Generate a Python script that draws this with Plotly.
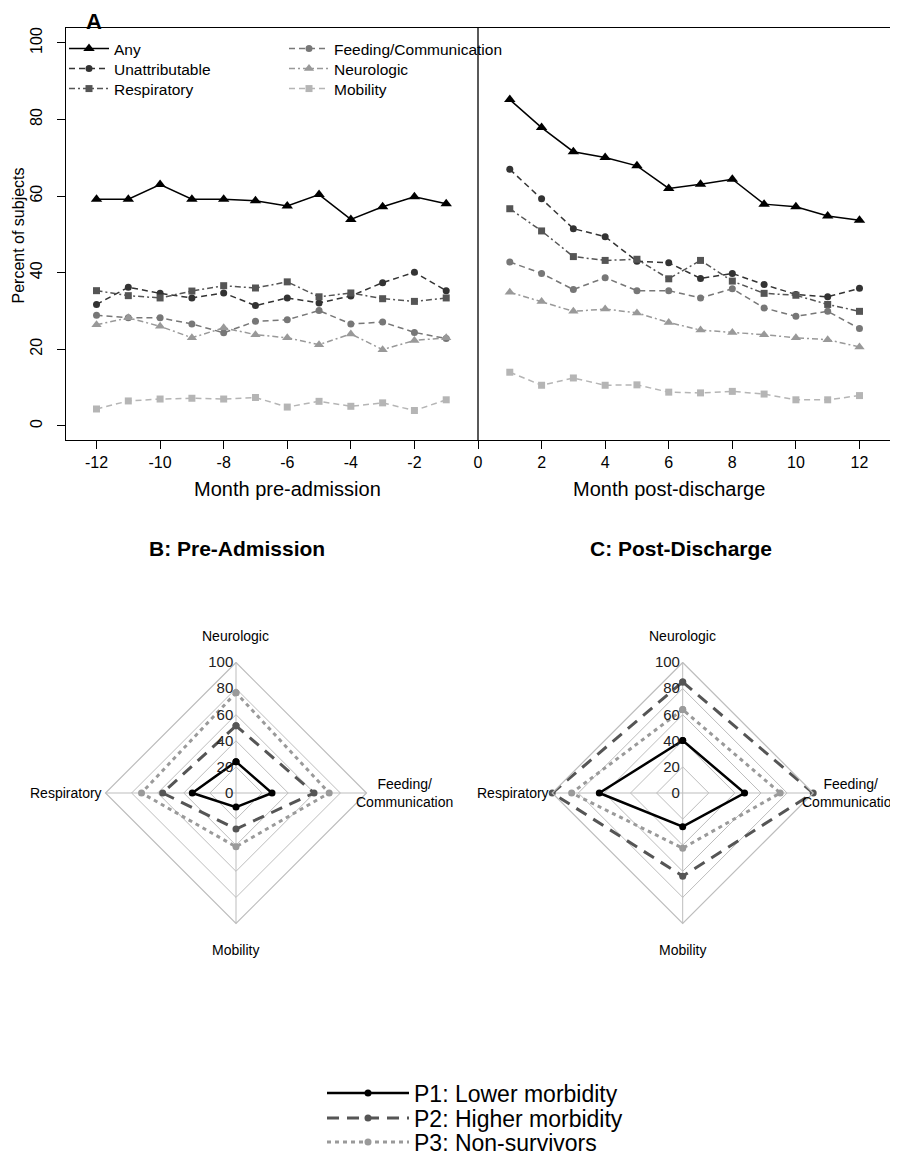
import plotly.graph_objects as go

# page offset (browser body margin) and figure size
OFF = 8
W, H = 898 - OFF, 1165 - OFF

# ---------------- Panel A data ----------------
months_pre = list(range(-12, 0))
months_post = list(range(1, 13))
x_ticks = list(range(-12, 13, 2))
x_tick_labels = [str(v) for v in x_ticks]
y_ticks = [0, 20, 40, 60, 80, 100]

any_pre = [59.2, 59.2, 63.0, 59.2, 59.2, 58.8, 57.4, 60.4, 53.9, 57.2, 59.8, 58.0]
any_post = [85.2, 77.9, 71.6, 70.1, 67.9, 62.0, 63.1, 64.4, 57.9, 57.2, 54.8, 53.7]
unattr_pre = [31.7, 36.2, 34.6, 33.4, 34.7, 31.4, 33.4, 32.1, 33.9, 37.4, 40.1, 35.3]
unattr_post = [67.0, 59.3, 51.5, 49.4, 43.0, 42.6, 38.5, 39.8, 36.9, 34.3, 33.7, 35.9]
resp_pre = [35.3, 34.0, 33.4, 35.2, 36.6, 36.0, 37.6, 33.7, 34.7, 33.2, 32.5, 33.4]
resp_post = [56.7, 50.9, 44.2, 43.2, 43.5, 38.4, 43.2, 37.8, 34.6, 34.1, 31.7, 29.9]
feed_pre = [28.9, 28.2, 28.2, 26.6, 24.3, 27.3, 27.7, 30.1, 26.6, 27.1, 24.4, 22.8]
feed_post = [42.8, 39.8, 35.6, 38.7, 35.3, 35.3, 33.4, 35.8, 30.8, 28.6, 29.9, 25.4]
neuro_pre = [26.4, 28.2, 26.0, 23.0, 25.6, 23.8, 23.0, 21.2, 24.0, 19.9, 22.3, 23.0]
neuro_post = [34.9, 32.5, 29.9, 30.5, 29.5, 27.0, 25.0, 24.4, 23.8, 23.0, 22.5, 20.6]
mob_pre = [4.4, 6.5, 7.0, 7.2, 7.0, 7.4, 4.9, 6.4, 5.1, 6.0, 4.0, 6.8]
mob_post = [14.0, 10.6, 12.5, 10.6, 10.7, 8.8, 8.6, 9.0, 8.3, 6.8, 6.8, 7.9]

# ---------------- Radar data ----------------
radar_cats = ["Neurologic", "Respiratory", "Mobility", "Feeding/Communication"]
radar_labels = ["Neurologic", "Respiratory", "Mobility", "Feeding/<br>Communication"]
radar_ticks = [0, 20, 40, 60, 80, 100]
group_names = ["P1: Lower morbidity", "P2: Higher morbidity", "P3: Non-survivors"]
pre_p1 = [24.0, 33.5, 10.8, 27.6]
pre_p2 = [51.5, 56.2, 27.6, 59.8]
pre_p3 = [76.8, 72.4, 41.2, 71.4]
post_p1 = [40.2, 63.9, 25.8, 47.4]
post_p2 = [85.1, 100.0, 63.7, 100.0]
post_p3 = [63.9, 85.1, 42.3, 74.7]

FONT = "Liberation Sans, Arial, sans-serif"


def px_x(p):
    return (p - OFF) / W


def px_y(p):
    return 1 - (p - OFF) / H


fig = go.Figure()
legends = {}

# panel A: (name, pre, post, colour, dash, symbol, size, legend x, legend row y)
series = [
    ("Any", any_pre, any_post, "#000000", "solid", "triangle-up", 10, 64, 49),
    ("Unattributable", unattr_pre, unattr_post, "#333333", "6px,4px", "circle", 7, 64, 69),
    ("Respiratory", resp_pre, resp_post, "#555555", "6px,3px,2px,3px", "square", 7, 64, 89),
    ("Feeding/Communication", feed_pre, feed_post, "#777777", "6px,4px", "circle", 7, 284, 49),
    ("Neurologic", neuro_pre, neuro_post, "#999999", "6px,3px,2px,3px", "triangle-up", 9, 284, 69),
    ("Mobility", mob_pre, mob_post, "#b5b5b5", "6px,4px", "square", 7, 284, 89),
]
for i, (name, pre, post, color, dash, sym, size, lx, ly) in enumerate(series):
    key = "legend" if i == 0 else "legend%d" % (i + 1)
    legends[key] = dict(x=px_x(lx), y=px_y(ly), xanchor="left", yanchor="middle",
                        font=dict(size=15.5), bgcolor="rgba(0,0,0,0)", itemwidth=40)
    fig.add_trace(go.Scatter(
        x=months_pre + [None] + months_post,
        y=pre + [None] + post,
        mode="lines+markers", name=name, legend=key,
        line=dict(color=color, width=1.5, dash=dash),
        marker=dict(symbol=sym, size=size, color=color),
        xaxis="x", yaxis="y", connectgaps=False,
    ))

# radar traces
radar_styles = [
    ("#000000", "solid", 2.5, 1093),
    ("#555555", "12px,8px", 3, 1118),
    ("#9a9a9a", "4px,4px", 3, 1142),
]
for sub, groups, show in [("polar", [pre_p1, pre_p2, pre_p3], True),
                          ("polar2", [post_p1, post_p2, post_p3], False)]:
    for j, (gname, vals, (color, dash, lw, ly)) in enumerate(zip(group_names, groups, radar_styles)):
        key = "legend%d" % (7 + j)
        legends[key] = dict(x=px_x(322), y=px_y(ly), xanchor="left", yanchor="middle",
                            font=dict(size=23), bgcolor="rgba(0,0,0,0)", itemwidth=82)
        fig.add_trace(go.Scatterpolar(
            r=vals + [vals[0]], theta=radar_cats + [radar_cats[0]],
            mode="lines+markers", name=gname, subplot=sub,
            legend=key, showlegend=show,
            line=dict(color=color, width=lw, dash=dash),
            marker=dict(symbol="circle", size=7, color=color),
        ))

R = 130.5
centers = {"polar": (236.0, 793.0), "polar2": (682.7, 793.0)}


def polar_layout(cx, cy):
    return dict(
        domain=dict(x=[px_x(cx - R), px_x(cx + R)], y=[px_y(cy + R), px_y(cy - R)]),
        gridshape="linear",
        bgcolor="white",
        angularaxis=dict(
            categoryorder="array", categoryarray=radar_cats,
            direction="counterclockwise", rotation=90,
            showticklabels=False, ticks="",
            gridcolor="#bdbdbd", gridwidth=1.2,
            linecolor="#bdbdbd", linewidth=1.2, showline=True,
        ),
        radialaxis=dict(
            range=[0, 100], tickvals=radar_ticks, ticks="",
            showline=False, gridcolor="#bdbdbd", gridwidth=1.2,
            angle=90, tickangle=90, side="counterclockwise",
            tickfont=dict(family=FONT, size=15, color="#222222"),
        ),
    )


annotations = []
annotations.append(dict(text="<b>A</b>", x=px_x(85), y=1.0, xref="paper", yref="paper",
                        xanchor="left", yanchor="top", showarrow=False, borderpad=0,
                        font=dict(family=FONT, size=22, color="black")))
annotations.append(dict(text="Month pre-admission", x=-6, y=px_y(489), xref="x", yref="paper",
                        xanchor="center", yanchor="middle", showarrow=False,
                        font=dict(family=FONT, size=20, color="black")))
annotations.append(dict(text="Month post-discharge", x=6, y=px_y(489), xref="x", yref="paper",
                        xanchor="center", yanchor="middle", showarrow=False,
                        font=dict(family=FONT, size=20, color="black")))
annotations.append(dict(text="Percent of subjects", x=px_x(18.5), y=px_y(236), xref="paper", yref="paper",
                        xanchor="center", yanchor="middle", textangle=-90, showarrow=False,
                        font=dict(family=FONT, size=16, color="black")))
for txt, cx in [("<b>B: Pre-Admission</b>", 237), ("<b>C: Post-Discharge</b>", 681)]:
    annotations.append(dict(text=txt, x=px_x(cx), y=px_y(548), xref="paper", yref="paper",
                            xanchor="center", yanchor="middle", showarrow=False,
                            font=dict(family=FONT, size=21, color="black")))
# radar category labels
offsets = [(0, -157, "center"), (-132, 0, "right"), (0, 157, "center"), (168, 0, "center")]
for sub, (cx, cy) in centers.items():
    for lab, (dx, dy, anc) in zip(radar_labels, offsets):
        annotations.append(dict(text=lab, x=px_x(cx + dx), y=px_y(cy + dy), xref="paper", yref="paper",
                                xanchor=anc, yanchor="middle", showarrow=False, align="center",
                                font=dict(family=FONT, size=14, color="black")))

fig.update_layout(
    width=W, height=H,
    margin=dict(l=0, r=0, t=0, b=0),
    paper_bgcolor="white", plot_bgcolor="white",
    font=dict(family=FONT, color="black"),
    xaxis=dict(domain=[px_x(66), px_x(890)], range=[-12.96, 12.96],
               tickvals=x_ticks, ticktext=x_tick_labels,
               showline=True, mirror=True, linecolor="black", linewidth=1.3,
               ticks="outside", ticklen=8, tickcolor="black", tickwidth=1.2,
               showgrid=False, zeroline=False, tickfont=dict(size=16), anchor="y"),
    yaxis=dict(domain=[px_y(440), px_y(28)], range=[-3.7, 103.9], tickvals=y_ticks,
               showline=True, mirror=True, linecolor="black", linewidth=1.3,
               ticks="outside", ticklen=8, tickcolor="black", tickwidth=1.2,
               tickangle=-90, ticklabelstandoff=8,
               showgrid=False, zeroline=False, tickfont=dict(size=16), anchor="x"),
    polar=polar_layout(*centers["polar"]),
    polar2=polar_layout(*centers["polar2"]),
    annotations=annotations,
    showlegend=True,
    **legends,
)
fig.add_shape(type="line", xref="x", yref="y domain", x0=0, x1=0, y0=0, y1=1,
              line=dict(color="black", width=1.3))

fig.write_html("out.html")
